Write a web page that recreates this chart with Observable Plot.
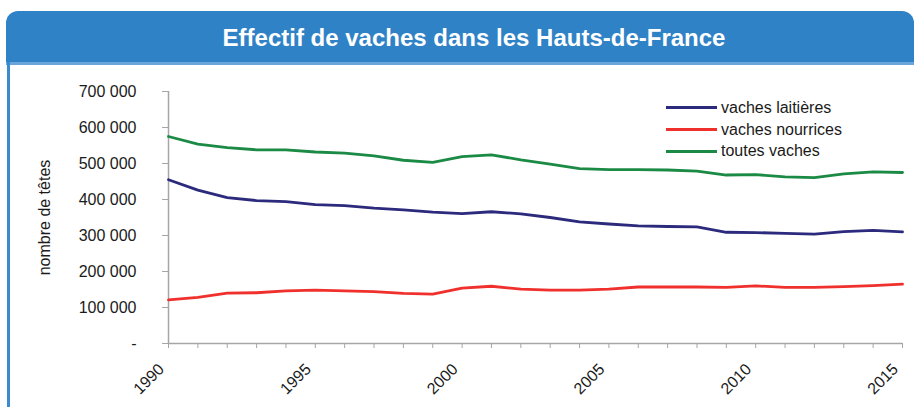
<!DOCTYPE html>
<html>
<head>
<meta charset="utf-8">
<script src="https://cdn.jsdelivr.net/npm/d3@7"></script>
<script src="https://cdn.jsdelivr.net/npm/@observablehq/plot@0.6"></script>
<style>
  html, body { margin: 0; padding: 0; background: #fff; }
  #wrap { position: relative; width: 914px; height: 407px; overflow: hidden; font-family: "Liberation Sans", Arial, sans-serif; }
  #bar { position: absolute; left: 6px; top: 11px; width: 908px; height: 51px; background: #2f82c6; border-radius: 12px 12px 0 0; }
  #stripe { position: absolute; left: 6px; top: 62px; width: 908px; height: 3px; background: #6aa6dc; }
  #leftline { position: absolute; left: 7px; top: 62px; width: 3px; height: 345px; background: #3a8bd0; }
  #title { position: absolute; left: 0; top: 12px; width: 914px; height: 51px; line-height: 51px; text-align: center; padding-left: 34px; box-sizing: border-box; color: #fff; font-weight: bold; font-size: 24px; }
  #chart { position: absolute; left: 0; top: 65px; }
  #legend { position: absolute; left: 666px; top: 97px; font-size: 16px; color: #1a1a1a; }
  .item { display: flex; align-items: center; height: 21.7px; }
  .sw { width: 51px; height: 3px; margin-right: 4px; }
</style>
</head>
<body>
<div id="wrap">
  <div id="bar"></div>
  <div id="stripe"></div>
  <div id="leftline"></div>
  <div id="title">Effectif de vaches dans les Hauts-de-France</div>
  <div id="chart"></div>
  <div id="legend"></div>
</div>
<script>
const years = d3.range(1990, 2016);
const xTickLabels = [1990, 1995, 2000, 2005, 2010, 2015];
const yTicks = [0, 100000, 200000, 300000, 400000, 500000, 600000, 700000];
const seriesNames = ["vaches laitières", "vaches nourrices", "toutes vaches"];
const seriesColors = ["#2b2a7c", "#f0302c", "#1b8a45"];
const laitieres = [455000, 426000, 405000, 397000, 394000, 386000, 383000, 376000, 371000, 365000, 361000, 366000, 360000, 350000, 338000, 332000, 327000, 325000, 324000, 309000, 308000, 306000, 304000, 311000, 314000, 310000];
const nourrices = [121000, 128000, 140000, 141000, 146000, 148000, 146000, 144000, 139000, 137000, 154000, 159000, 151000, 148000, 148000, 151000, 157000, 157000, 157000, 156000, 160000, 156000, 156000, 158000, 161000, 165000];
const toutes = [575000, 554000, 544000, 538000, 538000, 532000, 529000, 521000, 509000, 503000, 519000, 524000, 510000, 498000, 486000, 483000, 483000, 482000, 479000, 468000, 469000, 463000, 461000, 471000, 477000, 475000];
const yLabel = "nombre de têtes";

const seriesValues = [laitieres, nourrices, toutes];
const rows = [];
seriesNames.forEach((name, i) => {
  years.forEach((yr, j) => rows.push({series: name, year: yr, value: seriesValues[i][j]}));
});

const fmt = d => d === 0 ? "-" : d3.format(",")(d).replace(/,/g, " ");

const plot = Plot.plot({
  width: 914,
  height: 342,
  marginLeft: 168,
  marginRight: 12,
  marginTop: 26,
  marginBottom: 64,
  style: { fontFamily: "'Liberation Sans', Arial, sans-serif", fontSize: "16px", color: "#1a1a1a", background: "transparent", overflow: "visible" },
  x: { domain: [years[0], years[years.length - 1]] },
  y: { domain: [yTicks[0], yTicks[yTicks.length - 1]] },
  color: { domain: seriesNames, range: seriesColors },
  marks: [
    Plot.axisY({ ticks: yTicks, tickSize: 6, tickPadding: 26, tickFormat: fmt, stroke: "#a6a6a6", fill: "#1a1a1a", label: null }),
    Plot.ruleX([years[0]], { stroke: "#a6a6a6", strokeWidth: 1.5 }),
    Plot.ruleY([yTicks[0]], { stroke: "#a6a6a6", strokeWidth: 1.5 }),
    Plot.axisX({ ticks: years, tickSize: 5, tickFormat: () => "", stroke: "#a6a6a6", label: null }),
    Plot.axisX({ ticks: xTickLabels, tickSize: 0, tickPadding: 23, tickRotate: -45, tickFormat: d => String(d), fill: "#1a1a1a", dx: -7, label: null }),
    Plot.line(rows, { x: "year", y: "value", z: "series", stroke: "series", strokeWidth: 2.8 }),
    Plot.text([yLabel], { frameAnchor: "left", textAnchor: "middle", lineAnchor: "middle", dx: -124, rotate: -90, fontSize: 16, fill: "#1a1a1a" })
  ]
});
document.getElementById("chart").appendChild(plot);

const legend = document.getElementById("legend");
seriesNames.forEach((name, i) => {
  const it = document.createElement("div");
  it.className = "item";
  const sw = document.createElement("div");
  sw.className = "sw";
  sw.style.background = seriesColors[i];
  const tx = document.createElement("span");
  tx.textContent = name;
  it.appendChild(sw);
  it.appendChild(tx);
  legend.appendChild(it);
});
</script>
</body>
</html>
